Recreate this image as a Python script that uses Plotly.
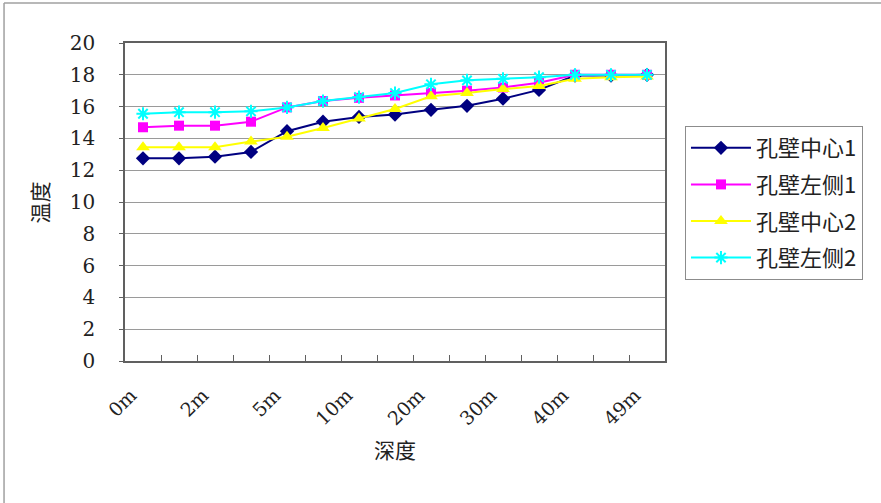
import plotly.graph_objects as go

# Depth stations along the borehole (15 stations, every other one labelled)
n_points = 15
positions = list(range(n_points))
tick_positions = positions[::2]
tick_labels = ["0m", "2m", "5m", "10m", "20m", "30m", "40m", "49m"]

# Temperatures (°C) at each station
center1 = [12.75, 12.75, 12.85, 13.15, 14.45, 15.05, 15.35, 15.5,
           15.8, 16.05, 16.5, 17.05, 17.95, 17.95, 18.0]
left1 = [14.7, 14.8, 14.8, 15.05, 15.95, 16.35, 16.55, 16.7,
         16.85, 17.0, 17.2, 17.5, 18.0, 18.0, 18.0]
center2 = [13.45, 13.45, 13.45, 13.8, 14.1, 14.65, 15.25, 15.85,
           16.65, 16.85, 17.1, 17.3, 17.75, 17.85, 17.9]
left2 = [15.55, 15.65, 15.65, 15.7, 15.95, 16.35, 16.6, 16.85,
         17.4, 17.65, 17.75, 17.85, 18.0, 18.0, 18.0]

series_names = ["孔壁中心1", "孔壁左侧1", "孔壁中心2", "孔壁左侧2"]
series_values = [center1, left1, center2, left2]
series_colors = ["#000080", "#FF00FF", "#FFFF00", "#00FFFF"]
series_symbols = ["diamond", "square", "triangle-up", "asterisk-open"]
series_sizes = [11, 10, 12, 11]

serif = "DejaVu Serif"
cjk = "Noto Sans CJK SC"

fig = go.Figure()
for name, vals, color, sym, size in zip(series_names, series_values,
                                         series_colors, series_symbols,
                                         series_sizes):
    marker = dict(symbol=sym, size=size, color=color)
    if sym.startswith("asterisk"):
        marker["line"] = dict(color=color, width=2)
    fig.add_trace(go.Scatter(
        x=positions, y=vals, name=name, mode="lines+markers",
        line=dict(color=color, width=2), marker=marker,
        legendgroup=name,
    ))

frame = dict(color="#a0a0a0", width=1.5)

fig.update_layout(
    width=881, height=503,
    margin=dict(l=125, r=216, t=43, b=142),
    paper_bgcolor="white", plot_bgcolor="white",
    font=dict(family=serif, size=18, color="black"),
    showlegend=True,
    legend=dict(
        x=1.037, y=0.739, xanchor="left", yanchor="top",
        bordercolor="#8c8c8c", borderwidth=1, bgcolor="white",
        font=dict(family=cjk, size=22, color="#222222"),
        tracegroupgap=5, itemwidth=60,
    ),
    annotations=[
        dict(text="深度", x=0.5, y=-0.33, xref="paper", yref="paper",
             showarrow=False, font=dict(family=cjk, size=21, color="#222222")),
        dict(text="温度", x=-0.19, y=0.5, xref="paper", yref="paper",
             showarrow=False, textangle=-90,
             font=dict(family=cjk, size=21, color="#222222")),
    ],
    shapes=[
        # outer chart frame (left and top edges)
        dict(type="line", xref="paper", yref="paper",
             x0=-0.224, y0=-1.0, x1=-0.224, y1=1.126, line=frame),
        dict(type="line", xref="paper", yref="paper",
             x0=-0.224, y0=1.126, x1=3.0, y1=1.126, line=frame),
    ],
)

fig.update_xaxes(
    range=[-0.5, n_points - 0.5],
    tickmode="array", tickvals=tick_positions, ticktext=tick_labels,
    tickangle=-45, ticks="", showgrid=False, zeroline=False,
    showline=True, linecolor="#606060", linewidth=1.5, mirror=True,
    minor=dict(tickmode="array",
               tickvals=[p - 0.5 for p in positions[1:]],
               ticks="inside", ticklen=6, tickcolor="#606060",
               showgrid=False),
    ticklabelstandoff=14, ticklabelshift=-12,
    tickfont=dict(family=serif, size=19, color="#222222"),
)
fig.update_yaxes(
    range=[0, 20], tick0=0, dtick=2,
    showgrid=True, gridcolor="#9a9a9a", gridwidth=1, zeroline=False,
    showline=True, linecolor="#606060", linewidth=1.5, mirror=True,
    ticks="outside", ticklen=4, tickcolor="#606060",
    ticklabelstandoff=20,
    tickfont=dict(family=serif, size=20, color="#222222"),
)

fig.write_html("out.html")
